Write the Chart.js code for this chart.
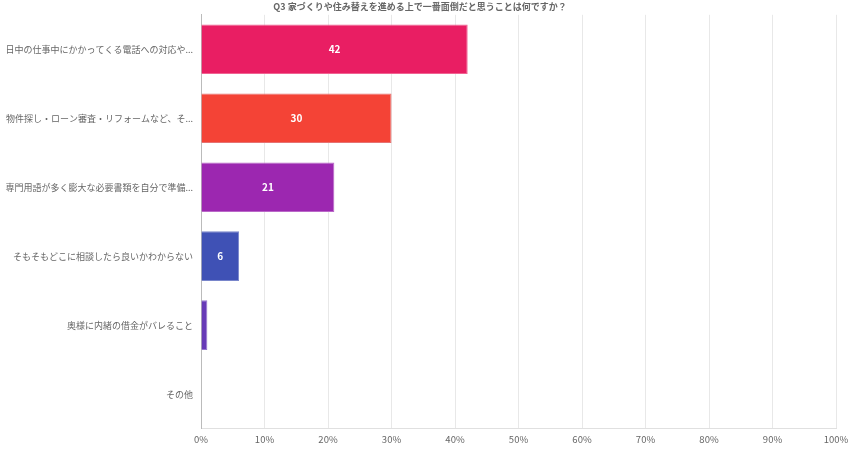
<!DOCTYPE html>
<html>
<head>
<meta charset="utf-8">
<script src="https://cdn.jsdelivr.net/npm/chart.js@4.4.1/dist/chart.umd.min.js"></script>
<style>
  html, body { margin: 0; padding: 0; background: #fff; }
  #wrap { width: 849px; height: 450px; }
</style>
</head>
<body>
<div id="wrap"><canvas id="chart"></canvas></div>
<script>
const titleText = "Q3 家づくりや住み替えを進める上で一番面倒だと思うことは何ですか？";

const categories = [
  "日中の仕事中にかかってくる電話への対応や...",
  "物件探し・ローン審査・リフォームなど、そ...",
  "専門用語が多く膨大な必要書類を自分で準備...",
  "そもそもどこに相談したら良いかわからない",
  "奥様に内緒の借金がバレること",
  "その他"
];

const values = [42, 30, 21, 6, 1, 0];

const barColors = ["#E91E63", "#F44336", "#9C27B0", "#3F51B5", "#673AB7", "#2196F3"];
const edgeColors = ["#F06292", "#E57373", "#BA68C8", "#7986CB", "#9575CD", "#64B5F6"];

const tickValues = [0, 10, 20, 30, 40, 50, 60, 70, 80, 90, 100];

const fontFamily = "'Noto Sans CJK JP', 'Noto Sans', sans-serif";

// white value labels in the middle of each bar (skipped when the bar is too thin)
const valueLabels = {
  id: "valueLabels",
  afterDatasetsDraw(chart) {
    const ctx = chart.ctx;
    const meta = chart.getDatasetMeta(0);
    ctx.save();
    ctx.font = "bold 10px " + fontFamily;
    ctx.fillStyle = "#fff";
    ctx.textAlign = "center";
    ctx.textBaseline = "middle";
    meta.data.forEach((bar, i) => {
      const w = Math.abs(bar.x - bar.base);
      if (w < 20) return;
      ctx.fillText(String(values[i]), (bar.x + bar.base) / 2, bar.y);
    });
    ctx.restore();
  }
};

new Chart(document.getElementById("chart"), {
  type: "bar",
  data: {
    labels: categories,
    datasets: [{
      data: values,
      backgroundColor: barColors,
      borderColor: edgeColors,
      borderWidth: 1,
      barPercentage: 0.9,
      categoryPercentage: 0.8
    }]
  },
  options: {
    indexAxis: "y",
    responsive: true,
    maintainAspectRatio: false,
    animation: false,
    layout: { padding: { left: 4, right: 13, top: 0, bottom: 0 } },
    plugins: {
      legend: { display: false },
      tooltip: { enabled: false },
      title: {
        display: true,
        text: titleText,
        color: "#666",
        font: { family: fontFamily, size: 9, weight: "bold" },
        padding: { top: 1, bottom: 3 }
      }
    },
    scales: {
      x: {
        min: 0,
        max: 100,
        afterBuildTicks: axis => { axis.ticks = tickValues.map(v => ({ value: v })); },
        afterFit: scale => { scale.paddingLeft = 0; scale.paddingRight = 0; },
        ticks: {
          color: "#666",
          font: { family: fontFamily, size: 9.5 },
          callback: v => v + "%",
          maxRotation: 0,
          padding: 5
        },
        grid: { color: "#e8e8e8", drawTicks: false },
        border: { color: "#e0e0e0" }
      },
      y: {
        afterFit: scale => { scale.width = 197; },
        ticks: {
          color: "#666",
          font: { family: fontFamily, size: 9 },
          padding: 8,
          autoSkip: false
        },
        grid: { display: false, drawTicks: false },
        border: { color: "#bbb" }
      }
    }
  },
  plugins: [valueLabels]
});
</script>
</body>
</html>
